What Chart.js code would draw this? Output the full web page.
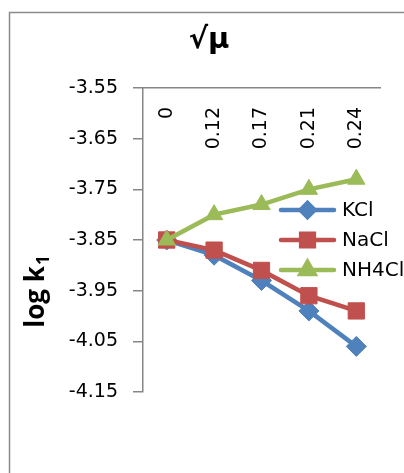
<!DOCTYPE html>
<html><head><meta charset="utf-8">
<script src="https://cdn.jsdelivr.net/npm/chart.js@4/dist/chart.umd.min.js"></script>
<style>html,body{margin:0;padding:0;background:#fff;overflow:hidden}#wrap{width:404px;height:473px;position:relative}</style>
</head><body><div id="wrap"><canvas id="c" width="404" height="473" style="width:404px;height:473px"></canvas></div>
<script>
const categories = ['0', '0.12', '0.17', '0.21', '0.24'];
const kcl = [-3.85, -3.88, -3.93, -3.99, -4.06];
const nacl = [-3.85, -3.87, -3.91, -3.96, -3.99];
const nh4cl = [-3.85, -3.80, -3.78, -3.75, -3.73];
const yTicks = [-4.15, -4.05, -3.95, -3.85, -3.75, -3.65, -3.55];
const seriesNames = ['KCl', 'NaCl', 'NH4Cl'];
const xTitle = '\u221A\u03BC';
const yTitleMain = 'log k';
const yTitleSub = '1';

const colors = ['#4F81BD', '#C0504D', '#9BBB59'];
const styles = ['rectRot', 'rect', 'triangle'];
const radii = [10, 11.5, 10];
const legendRadii = [7, 9, 8];
const axisGray = '#868686';

const frame = {
  id: 'frame',
  beforeDraw(chart) {
    const ctx = chart.ctx;
    ctx.save();
    ctx.fillStyle = '#fff';
    ctx.fillRect(0, 0, chart.width, chart.height);
    ctx.strokeStyle = '#8a8a8a';
    ctx.lineWidth = 1.5;
    ctx.strokeRect(9.5, 12.5, 700, 700);
    ctx.restore();
  }
};

const yTitlePlugin = {
  id: 'yTitle',
  afterDraw(chart) {
    const ctx = chart.ctx;
    ctx.save();
    ctx.translate(44, 292);
    ctx.rotate(-Math.PI / 2);
    ctx.fillStyle = '#000';
    ctx.textBaseline = 'alphabetic';
    ctx.font = 'bold 26px "Open Sans"';
    const w1 = ctx.measureText(yTitleMain).width;
    ctx.font = 'bold 17px "Open Sans"';
    const w2 = ctx.measureText(yTitleSub).width;
    const start = -(w1 + w2) / 2;
    ctx.font = 'bold 26px "Open Sans"';
    ctx.textAlign = 'left';
    ctx.fillText(yTitleMain, start, 0);
    ctx.font = 'bold 17px "Open Sans"';
    ctx.fillText(yTitleSub, start + w1 + 1, 5);
    ctx.restore();
  }
};

const legendPlugin = {
  id: 'customLegend',
  afterDatasetsDraw(chart) {
    const ctx = chart.ctx;
    const x0 = 281, x1 = 334, tx = 342;
    const ys = [210, 240, 270];
    ctx.save();
    chart.data.datasets.forEach((ds, i) => {
      const y = ys[i];
      ctx.strokeStyle = ds.borderColor;
      ctx.lineWidth = 4.5;
      ctx.lineCap = 'round';
      ctx.beginPath();
      ctx.moveTo(x0, y);
      ctx.lineTo(x1, y);
      ctx.stroke();
      ctx.fillStyle = ds.borderColor;
      Chart.helpers.drawPoint(ctx, {pointStyle: ds.pointStyle, radius: legendRadii[i], borderWidth: 1}, (x0 + x1) / 2, y);
      ctx.fill();
      ctx.fillStyle = '#000';
      ctx.font = '20px "DejaVu Sans"';
      ctx.textBaseline = 'middle';
      ctx.textAlign = 'left';
      ctx.fillText(ds.label, tx, y + 1);
    });
    ctx.restore();
  }
};

const seriesData = [kcl, nacl, nh4cl];
const datasets = seriesData.map((d, i) => ({
  label: seriesNames[i],
  data: d,
  borderColor: colors[i],
  backgroundColor: colors[i],
  borderWidth: 4.5,
  pointStyle: styles[i],
  pointRadius: radii[i],
  pointHoverRadius: radii[i],
  pointBorderWidth: 1,
  pointBorderColor: colors[i],
  pointBackgroundColor: colors[i],
  tension: 0,
  order: 2 - i
}));

new Chart(document.getElementById('c'), {
  type: 'line',
  data: { labels: categories, datasets },
  options: {
    responsive: false,
    animation: false,
    devicePixelRatio: 1,
    layout: { padding: { left: 38, right: 24, bottom: 81, top: 0 } },
    plugins: {
      legend: { display: false },
      tooltip: { enabled: false },
      title: {
        display: true,
        text: xTitle,
        color: '#000',
        font: { family: '"DejaVu Sans"', size: 29, weight: 'bold', lineHeight: 1.2 },
        padding: { top: 22.6, bottom: 30.6 }
      }
    },
    scales: {
      x: {
        type: 'category',
        position: { y: -3.55 },
        offset: true,
        grid: { display: false, drawTicks: false },
        border: { display: true, color: axisGray, width: 1.5 },
        ticks: {
          minRotation: 90, maxRotation: 90, autoSkip: false,
          padding: 19,
          color: '#000',
          font: { family: '"DejaVu Sans"', size: 19 }
        }
      },
      y: {
        type: 'linear',
        position: 'left',
        min: -4.15, max: -3.55,
        afterBuildTicks(scale) { scale.ticks = yTicks.map(v => ({ value: v })); },
        afterFit(scale) { scale.width = 105; },
        grid: { drawOnChartArea: false, drawTicks: true, tickLength: 10, color: axisGray, lineWidth: 1.5 },
        border: { display: true, color: axisGray, width: 1.5 },
        ticks: {
          padding: 15,
          color: '#000',
          font: { family: '"DejaVu Sans"', size: 19 },
          callback: (v) => Number(v).toFixed(2)
        }
      }
    }
  },
  plugins: [frame, yTitlePlugin, legendPlugin]
});
</script>
</body></html>
